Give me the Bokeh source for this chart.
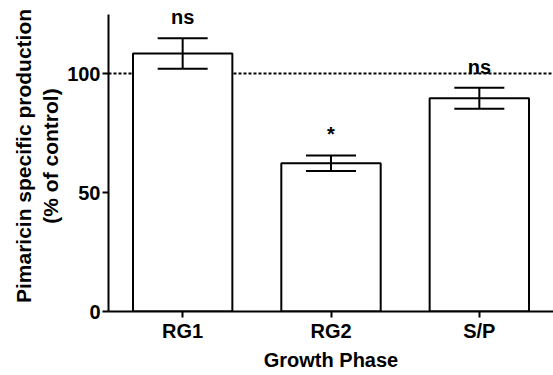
from bokeh.plotting import figure
from bokeh.models import ColumnDataSource, Whisker, TeeHead, Span, FixedTicker
from bokeh.core.properties import value
from bokeh.embed import file_html
from bokeh.resources import INLINE

phases = ["RG1", "RG2", "S/P"]
means = [108.4, 62.3, 89.6]
errors = [6.4, 3.3, 4.4]
labels = ["ns", "*", "ns"]
control_level = 100
y_ticks = [0, 50, 100]
axis_top = 125

upper = [m + e for m, e in zip(means, errors)]
lower = [m - e for m, e in zip(means, errors)]
src = ColumnDataSource(dict(x=phases, top=means, upper=upper, lower=lower, lab=labels))

FONT = "Liberation Sans"

p = figure(x_range=phases, y_range=(0, 130.7), width=553, height=375,
           output_backend="svg", toolbar_location=None,
           min_border_left=108, min_border_right=0, min_border_top=0, min_border_bottom=64)
p.outline_line_color = None
p.grid.visible = False
p.x_range.range_padding = 0

span = Span(location=control_level, dimension="width", line_color="black",
            line_width=2, line_dash="3 2", level="underlay")
p.add_layout(span)

p.vbar(x="x", top="top", width=0.67, source=src, fill_color="white",
       line_color="black", line_width=2)

w = Whisker(base="x", upper="upper", lower="lower", source=src,
            line_color="black", line_width=2, level="overlay",
            upper_head=TeeHead(size=50, line_color="black", line_width=2),
            lower_head=TeeHead(size=50, line_color="black", line_width=2))
p.add_layout(w)

p.text(x="x", y="upper", text="lab", source=src, text_align="center",
       text_baseline="alphabetic", y_offset=-21, text_font=value(FONT),
       text_font_style="bold", text_font_size="20px", text_color="black")

for ax in (p.xaxis, p.yaxis):
    ax.axis_line_width = 2
    ax.axis_line_color = "black"
    ax.major_tick_line_width = 2
    ax.major_tick_line_color = "black"
    ax.major_tick_out = 6
    ax.major_tick_in = 0
    ax.minor_tick_line_color = None
    ax.major_label_text_font = FONT
    ax.major_label_text_font_style = "bold"
    ax.major_label_text_font_size = "20px"
    ax.major_label_text_color = "black"
    ax.axis_label_text_font = FONT
    ax.axis_label_text_font_style = "bold"
    ax.axis_label_text_font_size = "20px"
    ax.axis_label_text_color = "black"

p.yaxis.ticker = FixedTicker(ticks=y_ticks)
p.yaxis.bounds = (0, axis_top)
p.yaxis.major_label_standoff = 2
p.yaxis.axis_label = "Pimaricin specific production\n(% of control)"
p.yaxis.axis_label_text_font_size = "21px"
p.yaxis.axis_label_standoff = 2
p.xaxis.axis_label = "Growth Phase"
p.xaxis.major_label_standoff = 2
p.xaxis.axis_label_standoff = 4

open("out.html", "w").write(file_html(p, INLINE))
